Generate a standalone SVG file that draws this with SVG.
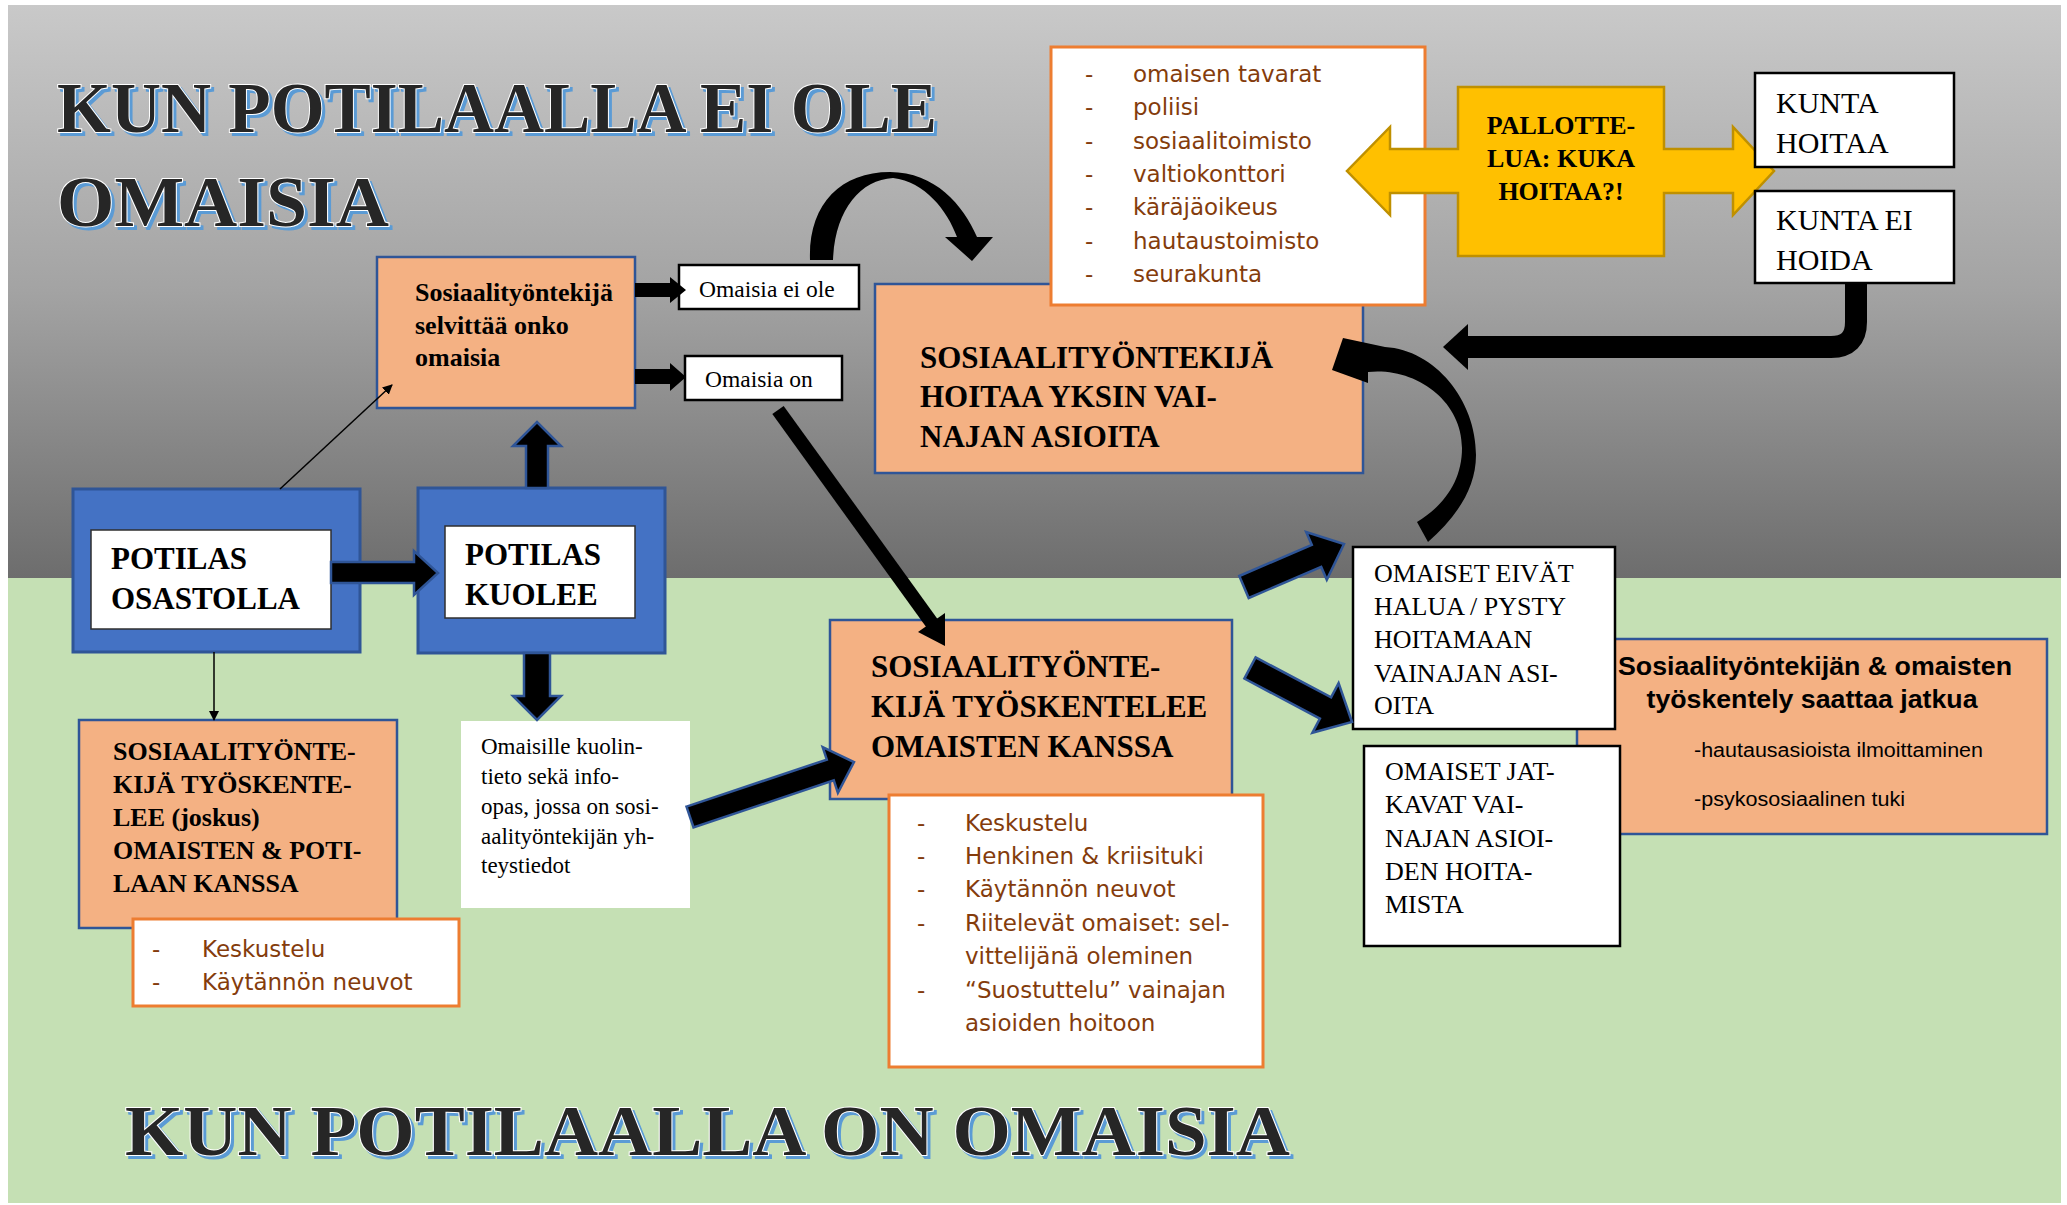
<svg xmlns="http://www.w3.org/2000/svg" width="2067" height="1205" viewBox="0 0 2067 1205">
<defs>
<linearGradient id="gray" x1="0" y1="0" x2="0" y2="1">
<stop offset="0" stop-color="#c9c9c9"/>
<stop offset="0.5" stop-color="#a3a3a3"/>
<stop offset="1" stop-color="#6d6d6d"/>
</linearGradient>
<marker id="thin" markerWidth="10" markerHeight="10" refX="9" refY="5" orient="auto" markerUnits="userSpaceOnUse" viewBox="0 0 10 10">
<path d="M0,0 L10,5 L0,10 Z" fill="#000"/>
</marker>
<style>
.title{font-family:"Liberation Serif","Times New Roman",serif;font-weight:bold;font-size:71px;}
.tsh{fill:#5b9bd5;stroke:#5b9bd5;stroke-width:2;}
.tfg{fill:#262626;stroke:#ffffff;stroke-width:2;paint-order:stroke;}
.orange{fill:#f4b183;stroke:#2f5597;stroke-width:2.5;}
.blue{fill:#4472c4;stroke:#2f5597;stroke-width:3;}
.wbox{fill:#ffffff;stroke:#000;stroke-width:2.5;}
.list{fill:#ffffff;stroke:#ed7d31;stroke-width:3;}
.sb{font-family:"Liberation Serif","Times New Roman",serif;font-weight:bold;fill:#000;}
.sr{font-family:"Liberation Serif","Times New Roman",serif;fill:#000;}
.li{font-family:"DejaVu Sans",Verdana,sans-serif;font-size:23px;fill:#843c0c;}
.blk{fill:#000;stroke:#2f5597;stroke-width:2.5;stroke-linejoin:miter;}
.pure{fill:#000;}
</style>
</defs>
<rect x="0" y="0" width="2067" height="1205" fill="#ffffff"/>
<rect x="8" y="5" width="2053" height="573" fill="url(#gray)"/>
<rect x="8" y="578" width="2053" height="625" fill="#c5e0b4"/>

<g id="title-top">
<text class="title tsh" x="60" y="135" textLength="880" lengthAdjust="spacingAndGlyphs">KUN POTILAALLA EI OLE</text>
<text class="title tfg" x="57" y="132" textLength="880" lengthAdjust="spacingAndGlyphs">KUN POTILAALLA EI OLE</text>
<text class="title tsh" x="60" y="229" textLength="332" lengthAdjust="spacingAndGlyphs">OMAISIA</text>
<text class="title tfg" x="57" y="226" textLength="332" lengthAdjust="spacingAndGlyphs">OMAISIA</text>
</g>
<g id="title-bottom">
<text class="title tsh" x="128" y="1158" textLength="1165" lengthAdjust="spacingAndGlyphs">KUN POTILAALLA ON OMAISIA</text>
<text class="title tfg" x="125" y="1155" textLength="1165" lengthAdjust="spacingAndGlyphs">KUN POTILAALLA ON OMAISIA</text>
</g>

<g id="node-selvittaa">
<rect class="orange" x="377" y="257" width="258" height="151"/>
<text class="sb" font-size="26" x="415" y="301">Sosiaalityöntekijä</text>
<text class="sb" font-size="26" x="415" y="334">selvittää onko</text>
<text class="sb" font-size="26" x="415" y="366">omaisia</text>
</g>
<g id="node-ei-ole">
<rect class="wbox" x="679" y="265" width="180" height="44"/>
<text class="sr" font-size="23.5" x="699" y="297">Omaisia ei ole</text>
</g>
<g id="node-on">
<rect class="wbox" x="685" y="356" width="157" height="44"/>
<text class="sr" font-size="23.5" x="705" y="387">Omaisia on</text>
</g>

<g id="node-hoitaa-yksin">
<rect class="orange" x="875" y="284" width="488" height="189"/>
<text class="sb" font-size="31" x="920" y="368">SOSIAALITYÖNTEKIJÄ</text>
<text class="sb" font-size="31" x="920" y="407">HOITAA YKSIN VAI-</text>
<text class="sb" font-size="31" x="920" y="447">NAJAN ASIOITA</text>
</g>

<g id="node-tahot">
<rect class="list" x="1051" y="47" width="374" height="258"/>
<g class="li">
<text x="1085" y="82">-</text><text x="1133" y="82">omaisen tavarat</text>
<text x="1085" y="115">-</text><text x="1133" y="115">poliisi</text>
<text x="1085" y="149">-</text><text x="1133" y="149">sosiaalitoimisto</text>
<text x="1085" y="182">-</text><text x="1133" y="182">valtiokonttori</text>
<text x="1085" y="215">-</text><text x="1133" y="215">käräjäoikeus</text>
<text x="1085" y="249">-</text><text x="1133" y="249">hautaustoimisto</text>
<text x="1085" y="282">-</text><text x="1133" y="282">seurakunta</text>
</g>
</g>

<g id="node-pallottelua">
<polygon points="1458,87 1664,87 1664,149 1733,149 1733,127 1774,171 1733,215 1733,193 1664,193 1664,256 1458,256 1458,193 1390,193 1390,215 1347,171 1390,127 1390,149 1458,149" fill="#ffc000" stroke="#bf9000" stroke-width="2.5"/>
<text class="sb" font-size="26" x="1561" y="134" text-anchor="middle">PALLOTTE-</text>
<text class="sb" font-size="26" x="1561" y="167" text-anchor="middle">LUA: KUKA</text>
<text class="sb" font-size="26" x="1561" y="200" text-anchor="middle">HOITAA?!</text>
</g>

<g id="node-kunta-hoitaa">
<rect class="wbox" x="1755" y="73" width="199" height="94"/>
<text class="sr" font-size="30" x="1776" y="113">KUNTA</text>
<text class="sr" font-size="30" x="1776" y="153">HOITAA</text>
</g>
<g id="node-kunta-ei">
<rect class="wbox" x="1755" y="191" width="199" height="92"/>
<text class="sr" font-size="30" x="1776" y="230">KUNTA EI</text>
<text class="sr" font-size="30" x="1776" y="270">HOIDA</text>
</g>

<g id="node-osastolla">
<rect class="blue" x="73" y="489" width="287" height="163"/>
<rect fill="#ffffff" stroke="#2f2f2f" stroke-width="1.5" x="91" y="530" width="240" height="99"/>
<text class="sb" font-size="31" x="111" y="569">POTILAS</text>
<text class="sb" font-size="31" x="111" y="609">OSASTOLLA</text>
</g>
<g id="node-kuolee">
<rect class="blue" x="418" y="488" width="247" height="165"/>
<rect fill="#ffffff" stroke="#2f2f2f" stroke-width="1.5" x="445" y="526" width="190" height="92"/>
<text class="sb" font-size="31" x="465" y="565">POTILAS</text>
<text class="sb" font-size="31" x="465" y="605">KUOLEE</text>
</g>

<g id="node-joskus">
<rect class="orange" x="79" y="720" width="318" height="208"/>
<text class="sb" font-size="26" x="113" y="760">SOSIAALITYÖNTE-</text>
<text class="sb" font-size="26" x="113" y="793">KIJÄ TYÖSKENTE-</text>
<text class="sb" font-size="26" x="113" y="826">LEE (joskus)</text>
<text class="sb" font-size="26" x="113" y="859">OMAISTEN &amp; POTI-</text>
<text class="sb" font-size="26" x="113" y="892">LAAN KANSSA</text>
</g>
<g id="node-joskus-list">
<rect class="list" x="133" y="919" width="326" height="87"/>
<g class="li">
<text x="152" y="957">-</text><text x="202" y="957">Keskustelu</text>
<text x="152" y="990">-</text><text x="202" y="990">Käytännön neuvot</text>
</g>
</g>

<g id="node-info">
<rect fill="#ffffff" x="461" y="721" width="229" height="187"/>
<text class="sr" font-size="23" x="481" y="754">Omaisille kuolin-</text>
<text class="sr" font-size="23" x="481" y="784">tieto sekä info-</text>
<text class="sr" font-size="23" x="481" y="814">opas, jossa on sosi-</text>
<text class="sr" font-size="23" x="481" y="844">aalityöntekijän yh-</text>
<text class="sr" font-size="23" x="481" y="873">teystiedot</text>
</g>

<g id="node-tyoskentelee">
<rect class="orange" x="830" y="620" width="402" height="179"/>
<text class="sb" font-size="31" x="871" y="677">SOSIAALITYÖNTE-</text>
<text class="sb" font-size="31" x="871" y="717">KIJÄ TYÖSKENTELEE</text>
<text class="sb" font-size="31" x="871" y="757">OMAISTEN KANSSA</text>
</g>
<g id="node-tyoskentelee-list">
<rect class="list" x="889" y="795" width="374" height="272"/>
<g class="li">
<text x="917" y="831">-</text><text x="965" y="831">Keskustelu</text>
<text x="917" y="864">-</text><text x="965" y="864">Henkinen &amp; kriisituki</text>
<text x="917" y="897">-</text><text x="965" y="897">Käytännön neuvot</text>
<text x="917" y="931">-</text><text x="965" y="931">Riitelevät omaiset: sel-</text>
<text x="965" y="964">vittelijänä oleminen</text>
<text x="917" y="998">-</text><text x="965" y="998">“Suostuttelu” vainajan</text>
<text x="965" y="1031">asioiden hoitoon</text>
</g>
</g>

<g id="node-jatkua">
<rect class="orange" x="1577" y="639" width="470" height="195"/>
<text font-family="Liberation Sans, Arial, sans-serif" font-weight="bold" font-size="25" x="1815" y="675" text-anchor="middle" textLength="394" lengthAdjust="spacingAndGlyphs">Sosiaalityöntekijän &amp; omaisten</text>
<text font-family="Liberation Sans, Arial, sans-serif" font-weight="bold" font-size="25" x="1812" y="708" text-anchor="middle" textLength="331" lengthAdjust="spacingAndGlyphs">työskentely saattaa jatkua</text>
<text font-family="Liberation Sans, Arial, sans-serif" font-size="20" x="1694" y="757" textLength="289" lengthAdjust="spacingAndGlyphs">-hautausasioista ilmoittaminen</text>
<text font-family="Liberation Sans, Arial, sans-serif" font-size="20" x="1694" y="806" textLength="211" lengthAdjust="spacingAndGlyphs">-psykososiaalinen tuki</text>
</g>

<g id="node-eivat">
<rect class="wbox" x="1353" y="547" width="262" height="182"/>
<text class="sr" font-size="26" x="1374" y="582">OMAISET EIVÄT</text>
<text class="sr" font-size="26" x="1374" y="615">HALUA / PYSTY</text>
<text class="sr" font-size="26" x="1374" y="648">HOITAMAAN</text>
<text class="sr" font-size="26" x="1374" y="682">VAINAJAN ASI-</text>
<text class="sr" font-size="26" x="1374" y="714">OITA</text>
</g>
<g id="node-jatkavat">
<rect class="wbox" x="1364" y="746" width="256" height="200"/>
<text class="sr" font-size="26" x="1385" y="780">OMAISET JAT-</text>
<text class="sr" font-size="26" x="1385" y="813">KAVAT VAI-</text>
<text class="sr" font-size="26" x="1385" y="847">NAJAN ASIOI-</text>
<text class="sr" font-size="26" x="1385" y="880">DEN HOITA-</text>
<text class="sr" font-size="26" x="1385" y="913">MISTA</text>
</g>

<g id="connectors">
<polygon class="pure" points="635,283 670,283 670,277 686,290 670,303 670,297 635,297"/>
<polygon class="pure" points="635,369 670,369 670,363 686,377 670,391 670,384 635,384"/>
<polygon class="blk" points="331,562 414,562 414,551 438,573 414,595 414,583 331,583"/>
<polygon class="blk" points="526,488 526,446 513,446 537,422 561,446 548,446 548,488"/>
<polygon class="blk" points="524,653 524,696 513,696 537,720 561,696 550,696 550,653"/>
<polygon class="blk" points="686.5,806.6 826.8,759.6 822.7,747.2 854,762 837.9,792.8 833.8,780.4 693.5,827.4"/>
<polygon class="blk" points="1239.3,576 1311.8,544.9 1306.2,532 1344,544 1326.8,579.8 1321.2,566.9 1248.7,598"/>
<polygon class="blk" points="1255.6,657.4 1331.1,697.4 1338.6,683.2 1352,722 1312.4,732.8 1319.9,718.6 1244.4,678.6"/>
<line x1="280" y1="489" x2="392" y2="385" stroke="#000" stroke-width="1.5" marker-end="url(#thin)"/>
<line x1="214" y1="652" x2="214" y2="720" stroke="#000" stroke-width="1.5" marker-end="url(#thin)"/>
<line x1="778" y1="410" x2="934" y2="626" stroke="#000" stroke-width="14"/>
<polygon class="pure" points="945,613 945,646 918,632"/>
<path class="pure" d="M810,260 C808,205 840,172 890,172 C935,172 963,205 977,237 L993,237 L972,261 L945,237 L957,237 C947,210 925,182 893,178 C860,180 835,210 833,260 Z"/>
<path d="M1856,283 V322 Q1856,347 1831,347 H1466" fill="none" stroke="#000" stroke-width="22"/>
<polygon class="pure" points="1468,324 1443,347 1468,370"/>
<path class="pure" d="M1428,542 C1455,518 1476,490 1476,455 C1476,400 1435,350 1385,347 L1343,338 L1332,370 L1368,383 L1368,372 C1415,367 1462,400 1462,448 C1462,480 1445,505 1417,522 Z"/>
</g>
</svg>
